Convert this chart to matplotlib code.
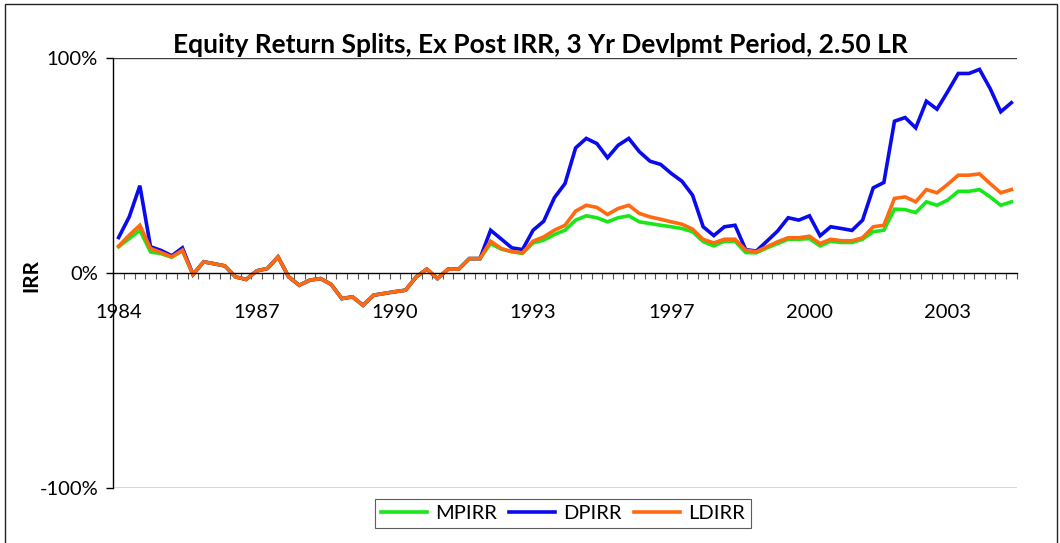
import numpy as np
import matplotlib.pyplot as plt
from matplotlib.patches import Rectangle
from matplotlib.lines import Line2D

plt.rcParams['font.family'] = ['Lato', 'DejaVu Sans']

# quarterly IRR (%), 1984Q1 .. 2005Q1
mpirr = [12.2, 16.0, 19.9, 9.8, 9.0, 7.3, 10.4, -0.7, 5.2, 4.3,
         3.3, -1.8, -3.0, 1.0, 2.1, 7.5, -1.8, -5.7, -3.3, -2.6,
         -5.3, -11.9, -11.1, -15.0, -10.3, -9.5, -8.7, -8.0, -1.8, 1.8,
         -2.6, 1.8, 1.8, 6.7, 6.7, 13.7, 11.1, 9.9, 9.1, 14.0,
         15.3, 17.9, 19.9, 24.6, 26.6, 25.7, 23.8, 25.7, 26.6, 23.8,
         23.0, 22.2, 21.5, 20.7, 19.2, 14.6, 12.6, 14.8, 14.8, 9.5,
         9.4, 11.7, 13.7, 15.7, 15.7, 16.0, 12.6, 14.8, 14.2, 14.2,
         15.7, 19.2, 19.9, 29.7, 29.5, 28.1, 33.1, 31.5, 33.9, 38.0,
         38.0, 38.8, 35.4, 31.5, 33.1]
dpirr = [16.5, 26.1, 40.6, 12.2, 10.5, 8.0, 11.7, -0.7, 5.2, 4.3,
         3.3, -1.8, -3.0, 1.0, 2.1, 7.5, -1.8, -5.7, -3.3, -2.6,
         -5.3, -11.9, -11.1, -15.0, -10.3, -9.5, -8.7, -8.0, -1.8, 1.8,
         -2.6, 1.8, 1.8, 6.7, 6.7, 19.9, 15.8, 11.7, 10.9, 19.9,
         24.1, 35.0, 41.6, 58.2, 62.6, 60.2, 53.6, 59.4, 62.6, 56.4,
         52.0, 50.5, 46.3, 42.7, 36.2, 21.5, 17.4, 21.5, 22.2, 10.9,
         10.2, 14.8, 19.5, 25.7, 24.6, 26.6, 17.3, 21.5, 20.7, 19.8,
         24.6, 39.6, 42.1, 70.6, 72.3, 67.5, 79.9, 76.2, 84.3, 92.8,
         92.8, 94.7, 85.8, 75.0, 79.2]
ldirr = [12.5, 17.6, 22.2, 11.4, 9.5, 7.5, 10.6, -0.7, 5.2, 4.3,
         3.3, -1.8, -3.0, 1.0, 2.1, 7.5, -1.8, -5.7, -3.3, -2.6,
         -5.3, -11.9, -11.1, -15.0, -10.3, -9.5, -8.7, -8.0, -1.8, 1.8,
         -2.6, 1.8, 1.8, 6.7, 6.7, 14.8, 11.4, 9.9, 9.4, 14.8,
         16.8, 19.9, 22.2, 28.8, 31.5, 30.5, 27.2, 30.0, 31.5, 27.7,
         26.1, 25.0, 23.8, 22.7, 20.4, 15.6, 14.0, 15.7, 15.7, 10.6,
         9.9, 12.2, 14.5, 16.4, 16.4, 17.1, 13.7, 15.7, 15.0, 15.0,
         16.4, 21.5, 22.2, 34.7, 35.4, 33.1, 38.8, 37.3, 41.2, 45.5,
         45.5, 46.1, 41.6, 37.3, 38.8]

series_names = ['MPIRR', 'DPIRR', 'LDIRR']
series_colors = ['#18E818', '#0A0AEE', '#FF6A10']
year_labels = ['1984', '1987', '1990', '1993', '1997', '2000', '2003']
label_step = 13  # one label every 13 quarters

n = len(mpirr)
x = np.arange(n) + 0.5

fig = plt.figure(figsize=(10.6, 5.43), dpi=100)
ax = fig.add_axes([113.3 / 1060, 1 - 488 / 543, 903.4 / 1060, 430 / 543])

for vals, name, col in zip([mpirr, dpirr, ldirr], series_names, series_colors):
    ax.plot(x, vals, color=col, lw=2.6, solid_joinstyle='miter', label=name)

ax.set_xlim(0, n)
ax.set_ylim(-100, 100)

# horizontal lines at +/-100%
for yv in (-100, 100):
    ax.axhline(yv, color='#3c3c3c', lw=1.0, zorder=0)

for s in ('top', 'right'):
    ax.spines[s].set_visible(False)
ax.spines['bottom'].set_position(('data', 0))
ax.spines['bottom'].set_linewidth(1.0)
ax.spines['left'].set_linewidth(1.0)

ax.set_yticks([-100, 0, 100])
ax.set_yticklabels(['-100%', '0%', '100%'], fontsize=14.5)
ax.tick_params(axis='y', direction='out', length=5, width=1, pad=6)

ax.set_xticks(x[::label_step])
ax.set_xticklabels(year_labels, fontsize=14.5)
ax.set_xticks(np.arange(n + 1), minor=True)
ax.tick_params(axis='x', which='major', length=0, pad=22)
ax.tick_params(axis='x', which='minor', direction='out', length=4, width=0.8,
               color='#555555')

fig.text(540 / 1060, 1 - 45 / 543, 'Equity Return Splits, Ex Post IRR, 3 Yr Devlpmt Period, 2.50 LR',
         ha='center', va='center', fontsize=19, fontweight='bold')
fig.text(31 / 1060, 1 - 275 / 543, 'IRR', rotation=90, ha='center', va='center',
         fontsize=15, fontweight='bold')

handles = [Line2D([], [], color=c, lw=2.6) for c in series_colors]
leg = fig.legend(handles, series_names, loc='center', ncol=3,
                 bbox_to_anchor=(563 / 1060, 1 - 513.5 / 543), fontsize=14.5,
                 frameon=True, fancybox=False, edgecolor='#333333',
                 handlelength=2.3, handletextpad=0.4, columnspacing=0.6,
                 borderpad=0.3)
leg.get_frame().set_linewidth(0.8)

fig.add_artist(Rectangle((5 / 1060, -0.02), 1052 / 1060, 1.0163 - 2 / 543,
                         transform=fig.transFigure, fill=False,
                         edgecolor='#222222', lw=1.0))

fig.savefig('out.png', dpi=100)
